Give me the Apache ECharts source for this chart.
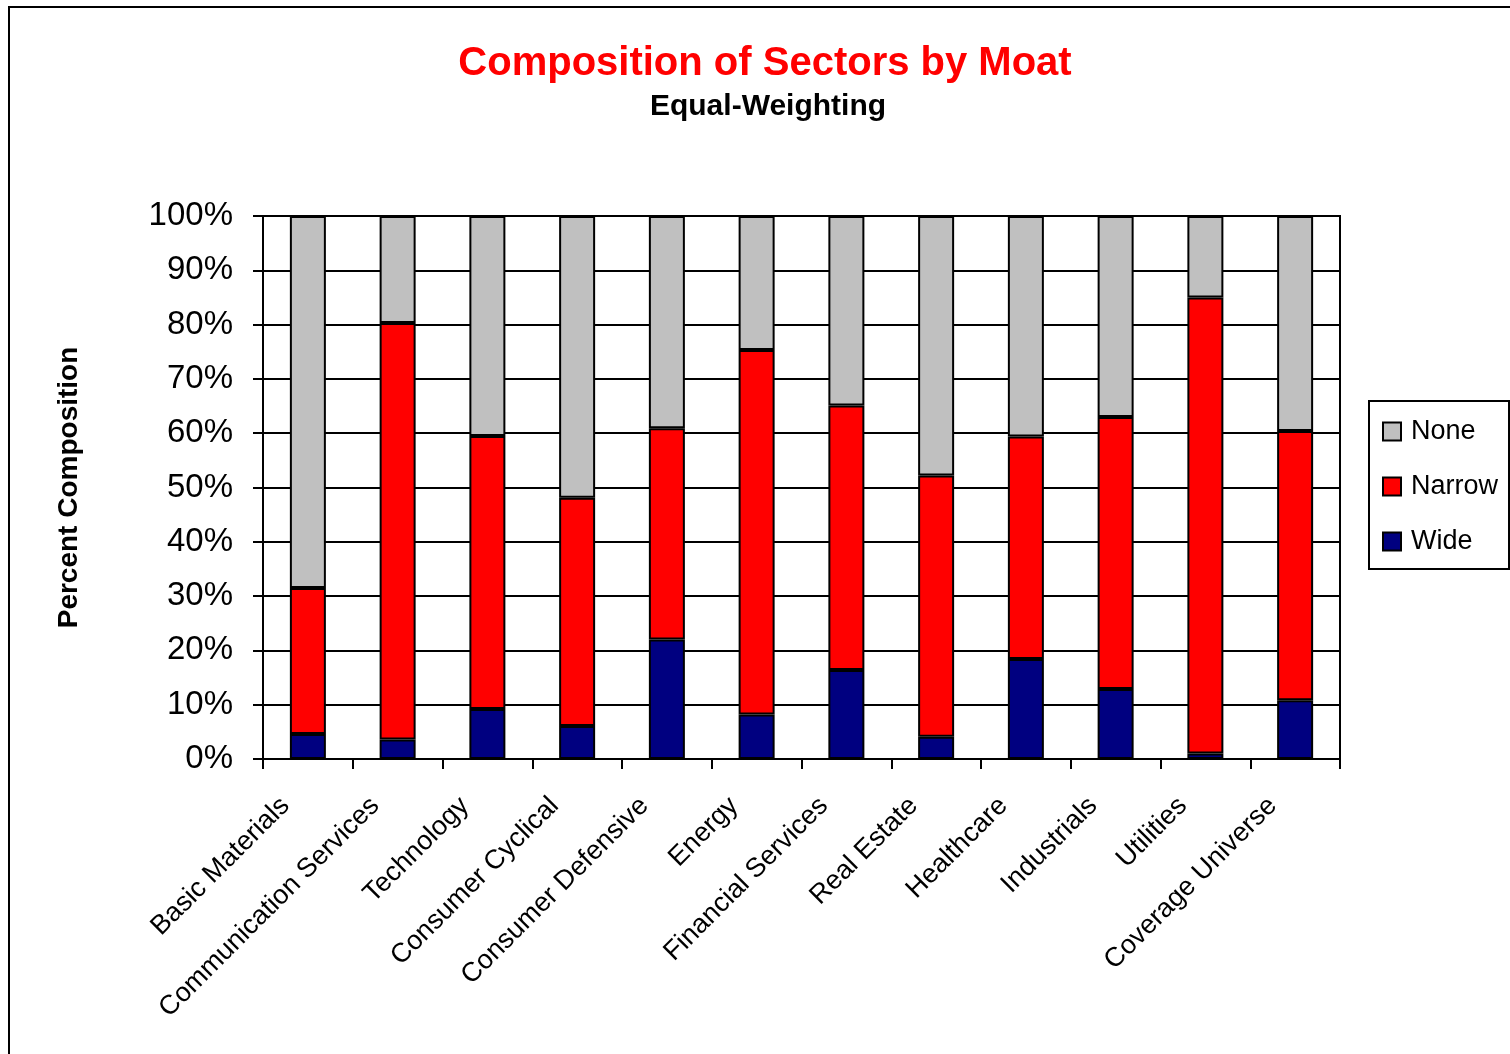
<!DOCTYPE html>
<html>
<head>
<meta charset="utf-8">
<title>Composition of Sectors by Moat</title>
<script src="https://cdn.jsdelivr.net/npm/echarts@6/dist/echarts.min.js"></script>
<style>
  html, body { margin: 0; padding: 0; background: #fff; }
  #chart { width: 1510px; height: 1054px; }
</style>
</head>
<body>
<div id="chart"></div>
<script>
// Sectors along the category axis
const categories = [
  'Basic Materials', 'Communication Services', 'Technology', 'Consumer Cyclical',
  'Consumer Defensive', 'Energy', 'Financial Services', 'Real Estate',
  'Healthcare', 'Industrials', 'Utilities', 'Coverage Universe'
];

// Share of companies (%) in each moat bucket, per sector
const wide   = [4.6, 3.6, 9.2, 6.1, 22.0, 8.2, 16.4, 4.1, 18.4, 12.9, 1.0, 10.8];
const narrow = [26.9, 76.7, 50.3, 42.0, 38.9, 67.1, 48.7, 48.1, 41.0, 50.1, 84.0, 49.6];
const none   = [68.5, 19.7, 40.5, 51.9, 39.1, 24.7, 34.9, 47.8, 40.6, 37.0, 15.0, 39.6];

// Value axis tick labels, 0% to 100% in steps of 10
const yTickLabels = ['0%', '10%', '20%', '30%', '40%', '50%', '60%', '70%', '80%', '90%', '100%'];

const SANS_FONT = "'Liberation Sans', Arial, sans-serif";

const chart = echarts.init(document.getElementById('chart'), null, { renderer: 'canvas' });

function barSeries(name, data, color) {
  return {
    name: name,
    type: 'bar',
    stack: 'moat',
    data: data,
    barWidth: 36,
    itemStyle: { color: color, borderColor: '#000', borderWidth: 2 },
    emphasis: { disabled: true }
  };
}

chart.setOption({
  animation: false,
  backgroundColor: '#fff',
  graphic: [
    {
      type: 'rect',
      shape: { x: 9, y: 7, width: 1700, height: 1200 },
      style: { fill: 'none', stroke: '#000', lineWidth: 2 },
      silent: true
    },
    {
      type: 'text',
      x: 765, y: 64,
      style: {
        text: 'Composition of Sectors by Moat',
        fill: '#ff0000',
        font: "bold 40px 'Liberation Sans', Arial, sans-serif",
        textAlign: 'center', textVerticalAlign: 'middle'
      }
    },
    {
      type: 'text',
      x: 768, y: 107,
      style: {
        text: 'Equal-Weighting',
        fill: '#000',
        font: "bold 30px 'Liberation Sans', Arial, sans-serif",
        textAlign: 'center', textVerticalAlign: 'middle'
      }
    }
  ],
  grid: {
    left: 263, right: 170, top: 216, bottom: 295,
    outerBoundsMode: 'none',
    containLabel: false,
    show: true, borderColor: '#000', borderWidth: 2, backgroundColor: 'transparent'
  },
  legend: {
    data: ['None', 'Narrow', 'Wide'],
    orient: 'vertical',
    left: 1369, top: 401,
    padding: [17, 11, 14, 13],
    icon: 'rect',
    itemWidth: 18, itemHeight: 18, itemGap: 28,
    borderColor: '#000', borderWidth: 2,
    selectedMode: false,
    textStyle: { fontFamily: SANS_FONT, fontSize: 27, color: '#000', padding: [0, 0, 0, 5] }
  },
  xAxis: {
    type: 'category',
    data: categories,
    axisLine: { lineStyle: { color: '#000', width: 2 } },
    axisTick: { show: true, length: 10, lineStyle: { color: '#000', width: 2 } },
    axisLabel: {
      interval: 0,
      rotate: 45,
      margin: 20,
      padding: [0, 32, 0, 0],
      fontFamily: SANS_FONT,
      fontSize: 27,
      color: '#000'
    }
  },
  yAxis: {
    type: 'value',
    min: 0, max: 100, interval: 10,
    name: 'Percent Composition',
    nameLocation: 'middle',
    nameRotate: 90,
    nameGap: 180,
    nameTextStyle: { fontFamily: SANS_FONT, fontWeight: 'bold', fontSize: 28, color: '#000' },
    axisLine: { show: true, lineStyle: { color: '#000', width: 2 } },
    axisTick: { show: true, length: 10, lineStyle: { color: '#000', width: 2 } },
    axisLabel: {
      margin: 30,
      fontFamily: SANS_FONT,
      fontSize: 33,
      color: '#000',
      formatter: function (v) { return yTickLabels[Math.round(v / 10)]; }
    },
    splitLine: { show: true, lineStyle: { color: '#000', width: 2 } }
  },
  series: [
    barSeries('Wide', wide, '#000080'),
    barSeries('Narrow', narrow, '#ff0000'),
    barSeries('None', none, '#c0c0c0')
  ]
});
</script>
</body>
</html>
